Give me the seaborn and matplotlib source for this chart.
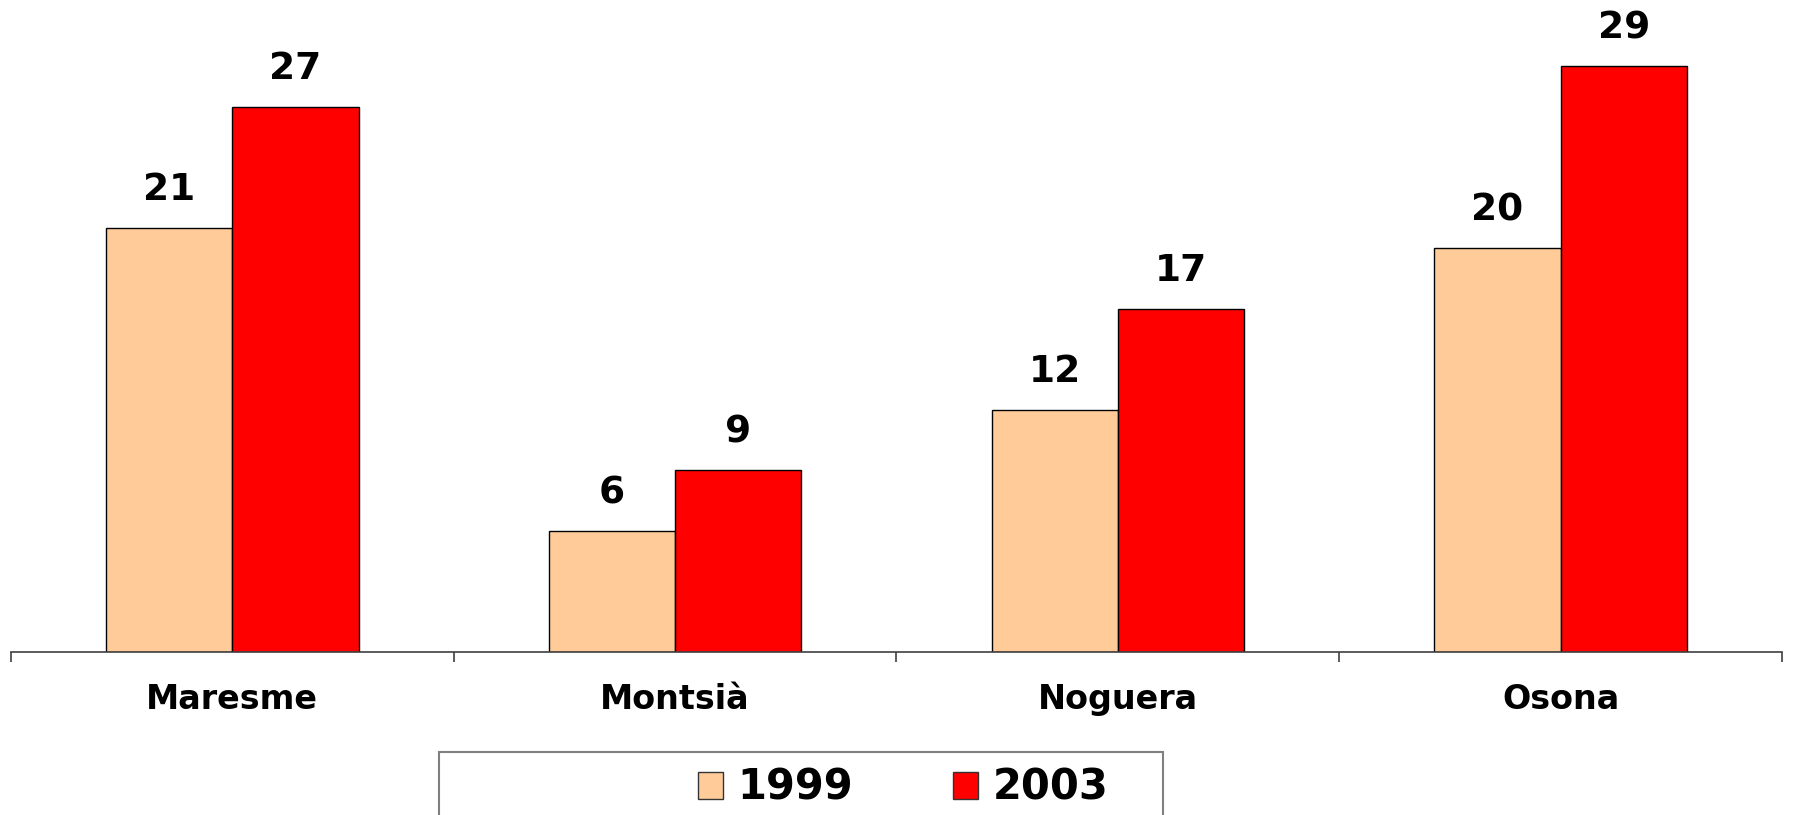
import pandas as pd
import numpy as np
import matplotlib
matplotlib.use("Agg")
import matplotlib.pyplot as plt
import seaborn as sns
from matplotlib.patches import Rectangle

# data
comarques = ["Maresme", "Montsià", "Noguera", "Osona"]
years = ["1999", "2003"]
vals_1999 = [21, 6, 12, 20]
vals_2003 = [27, 9, 17, 29]
colors = ["#FFCC99", "#FF0000"]

df = pd.DataFrame({
    "comarca": comarques * 2,
    "any": [years[0]] * 4 + [years[1]] * 4,
    "valor": vals_1999 + vals_2003,
})

sns.set_style("white")
plt.rcParams["font.family"] = ["DejaVu Sans"]
plt.rcParams["text.color"] = "black"
plt.rcParams["xtick.color"] = "black"

fig = plt.figure(figsize=(17.93, 8.15), dpi=100)
ax = fig.add_axes([11 / 1793, 0.2, 1771 / 1793, 0.8])

sns.barplot(data=df, x="comarca", y="valor", hue="any", palette=colors,
            saturation=1, width=0.57, edgecolor="black", linewidth=1.0,
            ax=ax, legend=False)

ax.set_ylim(0, 32.28)
ax.set_xlim(-0.5, 3.5)

# value labels
for cont in ax.containers:
    for bar in cont:
        h = bar.get_height()
        ax.annotate(f"{h:.0f}", (bar.get_x() + bar.get_width() / 2, h),
                    xytext=(0, 27), textcoords="offset points",
                    ha="center", va="center", fontsize=27, fontweight="bold",
                    color="black")

# axis styling: ticks at category boundaries, labels at centres
for s in ["top", "right", "left"]:
    ax.spines[s].set_visible(False)
ax.spines["bottom"].set_color("#404040")
ax.spines["bottom"].set_linewidth(1.2)
ax.set_yticks([])
ax.set_xticks(np.arange(-0.5, 4, 1.0))
ax.set_xticklabels([])
ax.tick_params(axis="x", which="major", direction="out", length=7.5,
               width=1.2, color="#404040", bottom=True)
ax.set_xticks(range(len(comarques)), minor=True)
ax.set_xticklabels(comarques, minor=True, fontsize=24, fontweight="bold",
                   color="black")
ax.tick_params(axis="x", which="minor", length=0, pad=22)
ax.set_xlabel("")
ax.set_ylabel("")

# legend with separate frame
handles = [Rectangle((0, 0), 1, 1, facecolor=c, edgecolor="#333333", linewidth=1.0)
           for c in colors]
fig.legend(handles, years, loc="center", bbox_to_anchor=(903 / 1793, 1 - 788 / 815),
           ncol=2, frameon=False, prop={"size": 30, "weight": "bold"},
           labelcolor="black",
           handlelength=0.6, handleheight=0.6, handletextpad=0.35,
           columnspacing=2.4)
fig.patches.append(Rectangle((439 / 1793, -0.05), 724 / 1793, 0.05 + (815 - 752) / 815,
                             transform=fig.transFigure, fill=False,
                             edgecolor="#808080", linewidth=1.5))

fig.savefig("out.png", dpi=100)
